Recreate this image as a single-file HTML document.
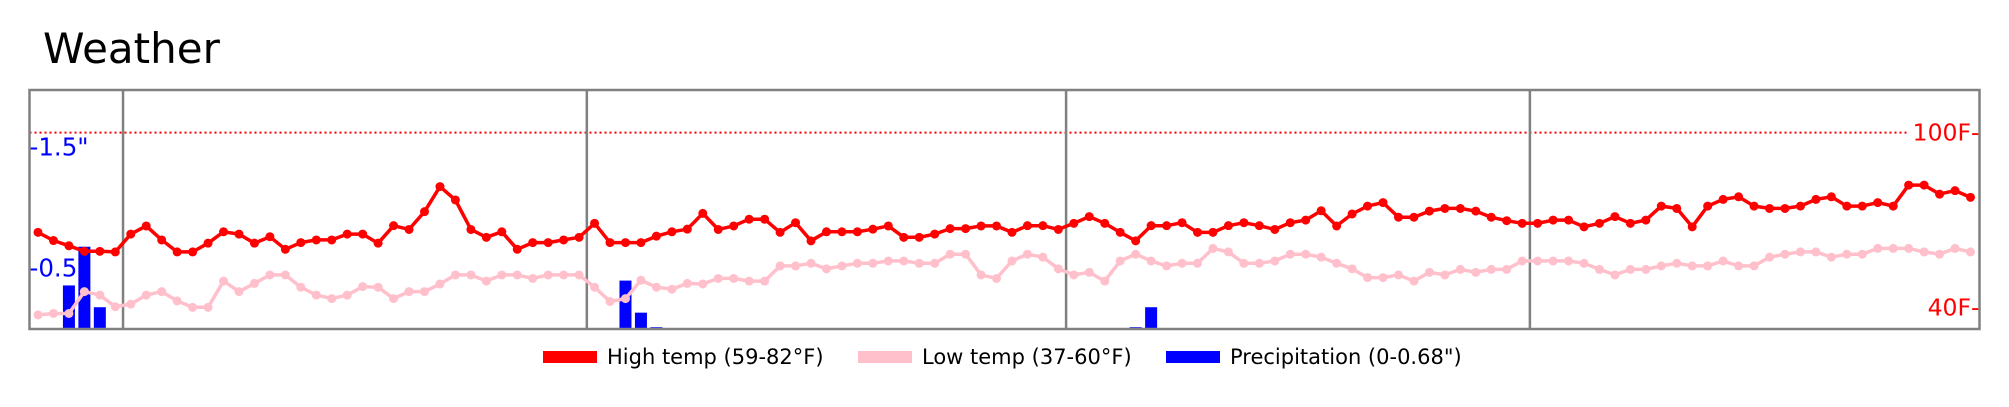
<!DOCTYPE html>
<html><head><meta charset="utf-8"><style>
html,body{margin:0;padding:0;background:#fff;}
svg{display:block;font-family:"DejaVu Sans","Liberation Sans",sans-serif;}
</style></head><body>
<svg id="chart" width="2009" height="407" viewBox="0 0 2009 407" xmlns="http://www.w3.org/2000/svg">
<text x="43" y="63" font-size="42" fill="#000">Weather</text>
<g id="plot"></g>
<g id="legend">
  <rect x="543" y="351" width="54" height="12" fill="#ff0000"/>
  <text x="607" y="364" font-size="21" fill="#000">High temp (59-82°F)</text>
  <rect x="858" y="351" width="54" height="12" fill="#ffc0cb"/>
  <text x="922" y="364" font-size="21" fill="#000">Low temp (37-60°F)</text>
  <rect x="1166" y="351" width="54" height="12" fill="#0000ff"/>
  <text x="1230" y="364" font-size="21" fill="#000">Precipitation (0-0.68")</text>
</g>
</svg>
<script>
const highs = [65.8,63.0,61.2,59.3,59.3,59.1,65.2,68.0,63.2,59.1,59.1,62.1,66.0,65.2,62.1,64.3,60.0,62.3,63.2,63.2,65.2,65.2,62.1,68.1,66.8,72.9,81.5,76.9,66.8,64.1,66.0,60.0,62.3,62.3,63.2,64.1,68.9,62.3,62.3,62.3,64.5,66.0,66.9,72.3,66.8,68.0,70.3,70.3,65.8,69.1,62.9,66.0,66.0,66.0,66.9,68.0,64.1,64.1,65.2,67.1,67.1,68.0,68.0,65.8,68.1,68.1,66.8,68.9,71.2,68.9,65.8,62.9,68.1,68.1,69.1,65.8,65.8,68.1,69.1,68.1,66.8,69.1,70.0,73.2,68.0,72.1,74.8,76.0,71.0,71.0,73.1,74.0,74.0,73.1,71.0,69.8,68.9,68.9,70.0,70.0,67.7,68.9,71.2,68.9,70.0,74.8,74.0,67.7,74.8,77.1,78.0,74.8,74.0,74.0,74.8,77.1,78.0,74.8,74.8,76.0,74.8,82.0,82.0,78.9,80.1,77.8];
const lows = [37.5,38.0,38.0,45.5,44.3,40.3,41.2,44.3,45.5,42.3,40.1,40.1,49.1,45.5,48.3,51.2,51.2,47.0,44.3,43.1,44.3,47.2,47.0,43.1,45.5,45.5,48.1,51.2,51.2,49.1,51.2,51.2,50.0,51.2,51.2,51.2,47.0,42.1,43.1,49.4,47.0,46.3,48.3,48.1,50.0,50.0,49.1,49.1,54.3,54.3,55.2,53.3,54.3,55.2,55.2,56.0,56.0,55.2,55.2,58.3,58.3,51.2,50.0,56.0,58.3,57.3,53.3,51.2,52.1,49.1,56.0,58.3,56.0,54.3,55.2,55.2,60.3,59.1,55.2,55.2,56.0,58.3,58.3,57.3,55.2,53.3,50.3,50.3,51.2,49.1,52.1,51.2,53.1,52.1,53.1,53.1,56.0,56.0,56.0,56.0,55.2,53.1,51.2,53.1,53.1,54.3,55.2,54.3,54.3,56.0,54.3,54.3,57.3,58.3,59.1,59.1,57.3,58.3,58.3,60.3,60.3,60.3,59.1,58.3,60.3,59.1];
const precipDays = [2,3,4,38,39,40,71,72];
const precipValues = [0.36,0.68,0.18,0.40,0.135,0.015,0.015,0.18];
const monthBreaks = [5.5,35.5,66.5,96.5];
const tempTicks = [100,40];
const tempTickLabels = ["100F","40F"];
const precipTicks = [1.5,0.5];
const precipTickLabels = ['1.5"','0.5'];

const NS="http://www.w3.org/2000/svg";
const L=29.5,R=1979.5,T=90,B=329;
function xDay(i){return 38+i*15.46;}
function yTemp(t){return 132.6+(100-t)*2.917;}
function yPrecip(p){return B-p*121;}
function mk(tag,attrs,parent){const e=document.createElementNS(NS,tag);for(const k in attrs)e.setAttribute(k,attrs[k]);parent.appendChild(e);return e;}
const g=document.getElementById('plot');

for(let k=0;k<precipDays.length;k++){
  const x=xDay(precipDays[k]),y=yPrecip(precipValues[k]);
  const r=mk('rect',{x:x-6,y:y,width:12,height:B-y,fill:'#0000ff'},g);
  
  
}
const dl=mk('line',{x1:L,x2:R-70,y1:yTemp(100),y2:yTemp(100),stroke:'#ff0000','stroke-width':2,'stroke-dasharray':'2,3'},g);


for(const b of monthBreaks){
  const xb=xDay(b);
  const l=mk('line',{x1:xb,x2:xb,y1:T,y2:B,stroke:'#808080','stroke-width':2.5},g);
  
  
}
function series(vals,color,name){
  const pts=vals.map((v,i)=>xDay(i).toFixed(1)+','+yTemp(v).toFixed(1)).join(' ');
  const pl=mk('polyline',{points:pts,fill:'none',stroke:color,'stroke-width':3.5,'stroke-linejoin':'round'},g);
  
  
  vals.forEach((v,i)=>{
    const c=mk('circle',{cx:xDay(i),cy:yTemp(v),r:4.5,fill:color},g);
    
    
  });
}
series(lows,'#ffc0cb','low-temp');
series(highs,'#ff0000','high-temp');
const fr=mk('rect',{x:L,y:T,width:R-L,height:B-T,fill:'none',stroke:'#808080','stroke-width':2.5},g);


tempTicks.forEach((t,k)=>{
  const tx=mk('text',{x:R,y:yTemp(t)+8,'font-size':23.5,fill:'#ff0000','text-anchor':'end'},g);
  tx.textContent=tempTickLabels[k]+'-';
  
  
});
precipTicks.forEach((p,k)=>{
  const tx=mk('text',{x:L,y:yPrecip(p)+8,'font-size':24.5,fill:'#0000ff'},g);
  tx.textContent='-'+precipTickLabels[k];
  
  
});
</script>
</body></html>
